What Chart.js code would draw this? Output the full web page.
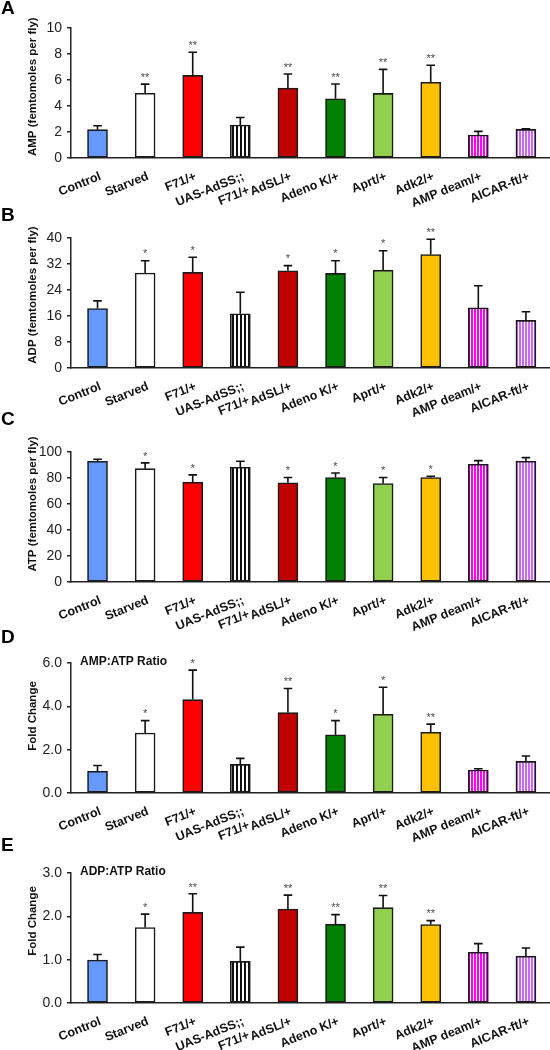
<!DOCTYPE html>
<html><head><meta charset="utf-8">
<script src="https://cdn.jsdelivr.net/npm/chart.js@4.4.1/dist/chart.umd.min.js"></script>
<style>
html,body{margin:0;padding:0;background:#fff;width:550px;height:1050px;overflow:hidden;position:relative;}
.panel{position:absolute;left:0;width:550px;height:240px;}
canvas{display:block;}
</style></head><body>
<div class="panel" id="pA"><canvas id="cA" width="550" height="240"></canvas></div>
<div class="panel" id="pB"><canvas id="cB" width="550" height="240"></canvas></div>
<div class="panel" id="pC"><canvas id="cC" width="550" height="240"></canvas></div>
<div class="panel" id="pD"><canvas id="cD" width="550" height="240"></canvas></div>
<div class="panel" id="pE"><canvas id="cE" width="550" height="240"></canvas></div>
<script>
// ---------- DATA ----------
const categories = ['Control', 'Starved', 'F71/+', ['UAS-AdSS;;', 'F71/+'], 'AdSL/+', 'Adeno K/+', 'Aprt/+', 'Adk2/+', 'AMP deam/+', 'AICAR-ft/+'];

const ampValues = [2.18, 4.98, 6.35, 2.54, 5.38, 4.55, 4.97, 5.82, 1.77, 2.2];
const ampErrors = [0.3, 0.7, 1.78, 0.57, 1.08, 1.14, 1.85, 1.32, 0.28, 0.05];
const ampStars  = ['', '**', '**', '', '**', '**', '**', '**', '', ''];

const adpValues = [18.3, 29.2, 29.4, 16.7, 29.9, 29.1, 30.1, 34.9, 18.5, 14.65];
const adpErrors = [2.35, 3.8, 4.7, 6.6, 1.6, 3.9, 6.0, 4.7, 6.8, 2.65];
const adpStars  = ['', '*', '*', '', '*', '*', '*', '**', '', ''];

const atpValues = [92.9, 87.2, 76.8, 88.3, 76.3, 80.4, 75.8, 80.4, 90.6, 92.9];
const atpErrors = [1.5, 4.4, 5.6, 4.6, 4.1, 3.5, 4.6, 1.0, 2.8, 2.8];
const atpStars  = ['', '*', '*', '', '*', '*', '*', '*', '', ''];

const ampAtpValues = [1.0, 2.77, 4.31, 1.32, 3.71, 2.69, 3.63, 2.8, 1.06, 1.46];
const ampAtpErrors = [0.27, 0.57, 1.36, 0.28, 1.11, 0.65, 1.25, 0.38, 0.06, 0.25];
const ampAtpStars  = ['', '*', '*', '', '**', '*', '*', '**', '', ''];

const adpAtpValues = [0.99, 1.74, 2.09, 0.96, 2.17, 1.82, 2.2, 1.81, 1.17, 1.08];
const adpAtpErrors = [0.13, 0.31, 0.43, 0.33, 0.32, 0.22, 0.28, 0.09, 0.2, 0.19];
const adpAtpStars  = ['', '*', '**', '', '**', '**', '**', '**', '', ''];

const ampTicks = [0, 10, 2];
const adpTicks = [0, 40, 8];
const atpTicks = [0, 100, 20];
const ampAtpTicks = [0, 6, 2];
const adpAtpTicks = [0, 3, 1];

// ---------- STYLE ----------
const FONT = '"Liberation Sans", Arial, Helvetica, sans-serif';
Chart.defaults.font.family = FONT;

function stripes(color, bg, cw, bw) {
  const c = document.createElement('canvas');
  c.width = cw + bw; c.height = 8;
  const g = c.getContext('2d');
  g.fillStyle = bg; g.fillRect(0, 0, cw + bw, 8);
  g.fillStyle = color; g.fillRect(0, 0, cw, 8);
  return g.createPattern(c, 'repeat');
}
const fills = ['#6699FF', '#FFFFFF', '#FF0000', stripes('#111111', '#FFFFFF', 2, 2), '#C00000', '#008000', '#92D050', '#FFC000',
  stripes('#FF00FF', '#FFFFFF', 2, 1), stripes('#CC66FF', '#FFFFFF', 2, 1)];

const PAD_TOP = 45;
const panels = [
  {id: 'cA', wrap: 'pA', letter: 'A', values: ampValues, errors: ampErrors, stars: ampStars, ticks: ampTicks, dec: 0,
   title: 'AMP (femtomoles per fly)', note: '', plotTop: 28.3, letterY: 9, titleY: 87},
  {id: 'cB', wrap: 'pB', letter: 'B', values: adpValues, errors: adpErrors, stars: adpStars, ticks: adpTicks, dec: 0,
   title: 'ADP (femtomoles per fly)', note: '', plotTop: 238, letterY: 216, titleY: 295},
  {id: 'cC', wrap: 'pC', letter: 'C', values: atpValues, errors: atpErrors, stars: atpStars, ticks: atpTicks, dec: 0,
   title: 'ATP (femtomoles per fly)', note: '', plotTop: 452, letterY: 420, titleY: 504},
  {id: 'cD', wrap: 'pD', letter: 'D', values: ampAtpValues, errors: ampAtpErrors, stars: ampAtpStars, ticks: ampAtpTicks, dec: 1,
   title: 'Fold Change', note: 'AMP:ATP Ratio', plotTop: 663, letterY: 638, titleY: 716},
  {id: 'cE', wrap: 'pE', letter: 'E', values: adpAtpValues, errors: adpAtpErrors, stars: adpAtpStars, ticks: adpAtpTicks, dec: 1,
   title: 'Fold Change', note: 'ADP:ATP Ratio', plotTop: 873, letterY: 846, titleY: 921}
];

const decor = {
  id: 'decor',
  afterDatasetsDraw(chart, args, opts) {
    const p = opts.panel;
    const top0 = p.plotTop - PAD_TOP;
    const ctx = chart.ctx;
    const ys = chart.scales.y;
    const meta = chart.getDatasetMeta(0);
    ctx.save();
    ctx.strokeStyle = '#111';
    ctx.lineWidth = 1.6;
    meta.data.forEach((bar, i) => {
      const x = bar.x;
      const yb = ys.getPixelForValue(p.values[i]);
      const yt = ys.getPixelForValue(p.values[i] + p.errors[i]);
      ctx.beginPath();
      ctx.moveTo(x, yb); ctx.lineTo(x, yt);
      ctx.moveTo(x - 4.3, yt); ctx.lineTo(x + 4.3, yt);
      ctx.stroke();
      if (p.stars[i]) {
        ctx.fillStyle = '#4a4a55';
        ctx.font = '11px ' + FONT;
        ctx.textAlign = 'center';
        ctx.textBaseline = 'alphabetic';
        ctx.fillText(p.stars[i], x, yt - 3.3);
      }
    });
    ctx.fillStyle = '#000';
    ctx.font = 'bold 19px ' + FONT;
    ctx.textAlign = 'left';
    ctx.textBaseline = 'middle';
    ctx.fillText(p.letter, 1, p.letterY - top0);
    if (p.note) {
      ctx.font = 'bold 12px ' + FONT;
      ctx.fillStyle = '#111';
      ctx.fillText(p.note, 80, chart.chartArea.top - 1.5);
    }
    // y-axis title
    ctx.save();
    ctx.translate(33, p.titleY - top0);
    ctx.rotate(-Math.PI / 2);
    ctx.font = 'bold 11.5px ' + FONT;
    ctx.fillStyle = '#111';
    ctx.textAlign = 'center';
    ctx.textBaseline = 'middle';
    ctx.fillText(p.title, 0, 0);
    ctx.restore();
    ctx.restore();
  }
};

panels.forEach(p => {
  document.getElementById(p.wrap).style.top = (p.plotTop - PAD_TOP) + 'px';
  new Chart(document.getElementById(p.id), {
    type: 'bar',
    data: {
      datasets: [{
        data: p.values.map((v, i) => ({x: i, y: v})),
        backgroundColor: fills,
        borderColor: '#1a1a1a',
        borderWidth: 1.6,
        borderSkipped: false,
        barThickness: 20
      }]
    },
    options: {
      responsive: false,
      animation: false,
      events: [],
      devicePixelRatio: 1,
      layout: {padding: {top: PAD_TOP, left: 0, right: 0, bottom: 0}},
      plugins: {legend: {display: false}, tooltip: {enabled: false}, decor: {panel: p}},
      scales: {
        x: {
          type: 'linear',
          offset: false,
          min: -0.557,
          max: 9.506,
          grid: {display: false, drawTicks: false, offset: false},
          border: {display: true, color: '#222', width: 1.5},
          ticks: {
            stepSize: 1,
            includeBounds: false,
            autoSkip: false,
            minRotation: 22,
            maxRotation: 22,
            padding: 11,
            labelOffset: 3,
            color: '#111',
            font: {size: 12.5, weight: 'bold'},
            callback: v => (Number.isInteger(v) && categories[v] !== undefined) ? categories[v] : ''
          },
          afterFit: s => { s.height = 65; s.paddingLeft = 0; s.paddingRight = 0; }
        },
        y: {
          min: p.ticks[0],
          max: p.ticks[1],
          grid: {drawOnChartArea: false, drawTicks: true, tickLength: 4, color: '#222', lineWidth: 1.5},
          border: {display: true, color: '#222', width: 1.5},
          ticks: {
            stepSize: p.ticks[2],
            padding: 5,
            color: '#222',
            font: {size: 14},
            callback: v => v.toFixed(p.dec)
          },
          title: {display: false},
          afterFit: s => { s.width = 71; s.paddingTop = 0; s.paddingBottom = 0; }
        }
      }
    },
    plugins: [decor]
  });
});
</script>
</body></html>
